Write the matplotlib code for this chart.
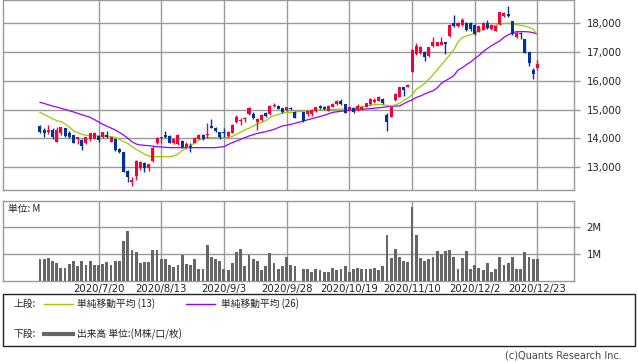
import numpy as np
import matplotlib
matplotlib.use("Agg")
import matplotlib.pyplot as plt
from matplotlib.lines import Line2D
from matplotlib.patches import Rectangle

plt.rcParams['font.family'] = ['DejaVu Sans', 'Noto Sans CJK JP']

nan = np.nan
opens = [14430, 14290, 14230, 14290, 13880, 14170, 14350, 14170, 14110, 13960,
         13940, 13830, 13970, 13990, 14080, 14030, 14110, 13880, 13960, 13630,
         13520, 12860, 12490, 12690, 12950, 13130, 12980, 13210, 13850, 14000,
         14110, 14090, 13820, 13800, 13900, 13680, 13730, 13850, 13990, 14130,
         14110, 14430, 14370, 14220, 14220, 14080, 14200, 14550, 14600, 14680,
         14840, 14840, 14580, 14620, 14870, 14840, 15120, 15120, 15050, 14990,
         15060, 14930, nan, 14925, 14830, 14830, 14950, 15120, 15100, 14960,
         15100, 15180, 15310, 15190, 14980, 15040, 14980, 15010, 15100, 15180,
         15250, 15300, 15380, 14809, 14750, 15330, 15447, 15770, 15795, 16317,
         16932, 16960, 17013, 16860, 17222, 17220, 17245, 17340, 17570, 18020,
         17910, 17940, 18022, 18020, 17940, 17710, 17767, 18022, 17790, 17744,
         17960, 18260, 18324, 18080, 17512, 17650, 17454, 16990, 16375, 16433]
highs = [14460, 14370, 14460, 14370, 14400, 14400, 14370, 14260, 14110, 14050,
         13960, 14030, 14200, 14220, 14110, 14230, 14250, 14030, 13990, 13650,
         13520, 12890, 12660, 13240, 13200, 13170, 13120, 13730, 14060, 14060,
         14250, 14110, 13990, 14150, 13940, 13880, 13820, 14030, 14140, 14160,
         14520, 14670, 14400, 14220, 14350, 14250, 14480, 14800, 14700, 14740,
         15090, 14930, 14700, 14830, 14920, 15150, 15220, 15150, 15070, 15100,
         15100, 14960, nan, 14930, 14990, 15010, 15100, 15140, 15120, 15160,
         15220, 15330, 15350, 15200, 15130, 15060, 15180, 15120, 15240, 15390,
         15410, 15460, 15400, 14867, 15120, 15560, 15800, 15790, 15900, 17090,
         17300, 17220, 17040, 17190, 17510, 17360, 17535, 17360, 17960, 18290,
         18050, 18180, 18060, 18050, 17975, 17920, 18060, 18115, 17960, 17930,
         18390, 18400, 18600, 18090, 17744, 17686, 17470, 17000, 16433, 16723]
lows = [14170, 14060, 14150, 13960, 13880, 14110, 14060, 14020, 13830, 13800,
        13590, 13800, 13910, 13960, 13880, 14000, 14000, 13860, 13560, 13500,
        12820, 12490, 12350, 12550, 12900, 12840, 12870, 13170, 13800, 13830,
        14000, 13830, 13800, 13780, 13650, 13650, 13530, 13820, 13960, 13940,
        14000, 14350, 14220, 13960, 14060, 14060, 14180, 14520, 14470, 14560,
        14800, 14670, 14290, 14600, 14730, 14820, 15090, 15010, 14880, 14960,
        14990, 14690, nan, 14580, 14790, 14790, 14920, 15010, 15000, 14940,
        15080, 15160, 15170, 14870, 14960, 14880, 14960, 14990, 15080, 15160,
        15230, 15280, 15190, 14250, 14730, 15310, 15430, 15480, 15780, 16290,
        16900, 16940, 16700, 16840, 17190, 17200, 17230, 16920, 17535, 17880,
        17880, 17910, 17740, 17740, 17590, 17690, 17750, 17790, 17770, 17720,
        17940, 18230, 18210, 17590, 17480, 17440, 16960, 16526, 16073, 16375]
closes = [14230, 14200, 14290, 14060, 14290, 14380, 14080, 14060, 13850, 14030,
          13740, 14030, 14170, 14200, 13940, 14220, 14030, 14030, 13590, 13530,
          12840, 12660, 12550, 13210, 13180, 12950, 13100, 13670, 14000, 14060,
          14060, 13850, 13960, 14110, 13710, 13800, 13680, 14000, 14110, 13960,
          14140, 14370, 14250, 14060, 14170, 14220, 14460, 14730, 14650, 14720,
          15070, 14720, 14670, 14800, 14760, 15120, 15170, 15030, 14910, 15080,
          15010, 14720, nan, 14610, 14950, 14980, 15076, 15040, 15020, 15130,
          15180, 15300, 15190, 14890, 15100, 14900, 15130, 15100, 15215, 15365,
          15330, 15447, 15215, 14577, 15100, 15530, 15772, 15680, 15855, 17070,
          17210, 17190, 16840, 17190, 17338, 17340, 17360, 17280, 17940, 17900,
          18020, 18115, 17767, 17790, 17616, 17906, 18022, 17825, 17940, 17900,
          18380, 18370, 18255, 17616, 17674, 17616, 16978, 16630, 16236, 16584]

ma13 = [14900, 14830, 14750, 14680, 14610, 14580, 14500, 14400, 14265, 14200,
        14140, 14100, 14100, 14090, 14080, 14080, 14070, 14060, 14030, 13960,
        13880, 13820, 13710, 13615, 13530, 13450, 13380, 13360, 13360, 13360,
        13360, 13360, 13380, 13450, 13570, 13650, 13730, 13850, 13940, 14000,
        14020, 14020, 14020, 14020, 14020, 14030, 14060, 14140, 14210, 14290,
        14350, 14430, 14500, 14550, 14610, 14720, 14790, 14830, 14870, 14900,
        14900, 14910, 14930, 14940, 14950, 14960, 14970, 14980, 14985, 14990,
        15000, 15010, 15015, 15018, 15030, 15050, 15080, 15100, 15122, 15150,
        15170, 15180, 15170, 15145, 15122, 15160, 15215, 15320, 15400, 15505,
        15700, 15800, 15900, 16050, 16200, 16380, 16550, 16723, 16900, 17071,
        17350, 17500, 17558, 17600, 17650, 17732, 17800, 17850, 17906, 17935,
        17964, 17990, 18000, 17976, 17950, 17930, 17906, 17860, 17790, 17600]
ma26 = [15250, 15210, 15165, 15123, 15085, 15045, 15007, 14960, 14915, 14868,
        14820, 14775, 14730, 14650, 14570, 14485, 14420, 14355, 14290, 14200,
        14114, 14000, 13882, 13800, 13766, 13755, 13743, 13725, 13708, 13695,
        13685, 13675, 13673, 13673, 13673, 13673, 13673, 13673, 13673, 13673,
        13673, 13673, 13673, 13690, 13708, 13780, 13847, 13905, 13963, 14020,
        14080, 14125, 14172, 14200, 14230, 14270, 14310, 14370, 14427, 14455,
        14485, 14520, 14560, 14600, 14640, 14680, 14720, 14760, 14800, 14850,
        14900, 14920, 14940, 14955, 14970, 14985, 15000, 15010, 15018, 15030,
        15045, 15060, 15075, 15095, 15110, 15122, 15122, 15200, 15273, 15330,
        15420, 15470, 15540, 15600, 15650, 15750, 15911, 16000, 16085, 16180,
        16375, 16450, 16560, 16650, 16770, 16880, 17013, 17120, 17220, 17303,
        17390, 17512, 17600, 17660, 17709, 17709, 17709, 17700, 17674, 17616]

volume = [0.80, 0.80, 0.84, 0.74, 0.65, 0.48, 0.50, 0.64, 0.76, 0.55,
          0.73, 0.61, 0.73, 0.58, 0.60, 0.64, 0.70, 0.61, 0.76, 0.74,
          1.48, 1.85, 1.14, 1.06, 0.66, 0.69, 0.69, 1.14, 1.14, 0.80,
          0.80, 0.61, 0.51, 0.61, 0.95, 0.64, 0.58, 0.80, 0.46, 0.43,
          1.33, 0.88, 0.80, 0.76, 0.46, 0.39, 0.65, 1.06, 1.18, 0.54,
          0.98, 0.80, 0.73, 0.39, 0.54, 1.03, 0.65, 0.46, 0.54, 0.88,
          0.61, 0.54, nan, 0.46, 0.46, 0.35, 0.43, 0.39, 0.35, 0.35,
          0.50, 0.39, 0.43, 0.54, 0.35, 0.46, 0.50, 0.46, 0.46, 0.46,
          0.50, 0.39, 0.54, 1.70, 0.84, 1.18, 0.88, 0.73, 0.69, 2.75,
          1.70, 0.84, 0.76, 0.80, 0.88, 1.10, 0.99, 1.10, 1.14, 0.88,
          0.43, 0.84, 1.10, 0.43, 0.61, 0.50, 0.39, 0.65, 0.35, 0.43,
          0.88, 0.61, 0.65, 0.88, 0.46, 0.46, 1.06, 0.88, 0.80, 0.80]

date_labels = ["2020/7/20", "2020/8/13", "2020/9/3", "2020/9/28",
               "2020/10/19", "2020/11/10", "2020/12/2", "2020/12/23"]
price_ticks = [13000, 14000, 15000, 16000, 17000, 18000]
vol_ticks = [1, 2]
vol_tick_labels = ["1M", "2M"]

UP = '#f5003a'
DOWN = '#003399'
GRID = '#999999'

W, H = 638, 362
fig = plt.figure(figsize=(W / 100, H / 100), dpi=100)

def axes_px(l, t, r, b):
    return fig.add_axes([l / W, 1 - b / H, (r - l) / W, (b - t) / H])

ax = axes_px(3, 0, 574, 190)
axv = axes_px(3, 201, 574, 281)

n = len(closes)
x = np.arange(n)
o = np.array(opens, float); c = np.array(closes, float)
h = np.array(highs, float); l = np.array(lows, float)
valid = ~np.isnan(c)
up = valid & (c >= o)
dn = valid & (c < o)
tick_x = [14 + 15 * k for k in range(len(date_labels))]
xlim = (-8.85, 127.75)

for a in (ax, axv):
    a.set_xlim(*xlim)
    for s in a.spines.values():
        s.set_color(GRID)
        s.set_linewidth(1)
    a.set_xticks(tick_x)
    a.grid(True, color=GRID, linewidth=1)
    a.set_axisbelow(True)
    a.yaxis.tick_right()
    a.tick_params(axis='y', colors=GRID, length=4, width=1, labelcolor='#222222',
                  labelsize=7.3, pad=5)
    a.tick_params(axis='x', length=0)

ax.set_ylim(12200, 18810)
ax.set_yticks(price_ticks)
ax.set_yticklabels([f"{v:,}" for v in price_ticks])
ax.set_xticklabels([])

# moving averages
ax.plot(x, ma26, color='#9900ff', linewidth=0.9, zorder=2)
ax.plot(x, ma13, color='#99cc00', linewidth=0.9, zorder=2)

# candles
for mask, col in ((up, UP), (dn, DOWN)):
    ax.vlines(x[mask], l[mask], h[mask], color=col, linewidth=1, zorder=3)
    body_lo = np.minimum(o, c)[mask]
    body_h = np.maximum(np.abs(c - o)[mask], 25)
    ax.bar(x[mask], body_h, bottom=body_lo, width=0.72, color=col,
           linewidth=0, zorder=4)

# volume
axv.bar(x, volume, width=0.68, color='#666666', linewidth=0, zorder=3)
axv.set_ylim(0, 2.97)
axv.set_yticks(vol_ticks)
axv.set_yticklabels(vol_tick_labels)
axv.set_xticklabels(date_labels, fontsize=7.3, color='#222222')
axv.tick_params(axis='x', pad=2)
axv.text(5 / 571, 0.90, "単位: M", transform=axv.transAxes, fontsize=7,
         va='center', ha='left', color='#222222',
         family=['Noto Sans CJK JP', 'DejaVu Sans'])

# legend box
def fx(px): return px / W
def fy(py): return 1 - py / H

fig.add_artist(Rectangle((fx(3), fy(346)), fx(635) - fx(3), fy(294) - fy(346),
                         transform=fig.transFigure, fill=False,
                         edgecolor='#222222', linewidth=1))
jp = ['Noto Sans CJK JP', 'DejaVu Sans']
row1, row2 = 304, 334
fig.text(fx(14), fy(row1), "上段:", fontsize=7, va='center', family=jp, color='#222222')
fig.add_artist(Line2D([fx(44), fx(73)], [fy(row1)] * 2, color='#99cc00', linewidth=1,
                      transform=fig.transFigure))
fig.text(fx(77), fy(row1), "単純移動平均 (13)", fontsize=7, va='center', family=jp, color='#222222')
fig.add_artist(Line2D([fx(186), fx(215)], [fy(row1)] * 2, color='#9900ff', linewidth=1,
                      transform=fig.transFigure))
fig.text(fx(221), fy(row1), "単純移動平均 (26)", fontsize=7, va='center', family=jp, color='#222222')
fig.text(fx(14), fy(row2), "下段:", fontsize=7, va='center', family=jp, color='#222222')
fig.add_artist(Line2D([fx(44), fx(73)], [fy(row2)] * 2, color='#666666', linewidth=3,
                      transform=fig.transFigure))
fig.text(fx(77), fy(row2), "出来高 単位:(M株/口/枚)", fontsize=7, va='center', family=jp, color='#222222')
fig.text(fx(622), fy(356), "(c)Quants Research Inc.", fontsize=7, va='center', ha='right',
         color='#444444')

fig.savefig("out.png", dpi=100)
